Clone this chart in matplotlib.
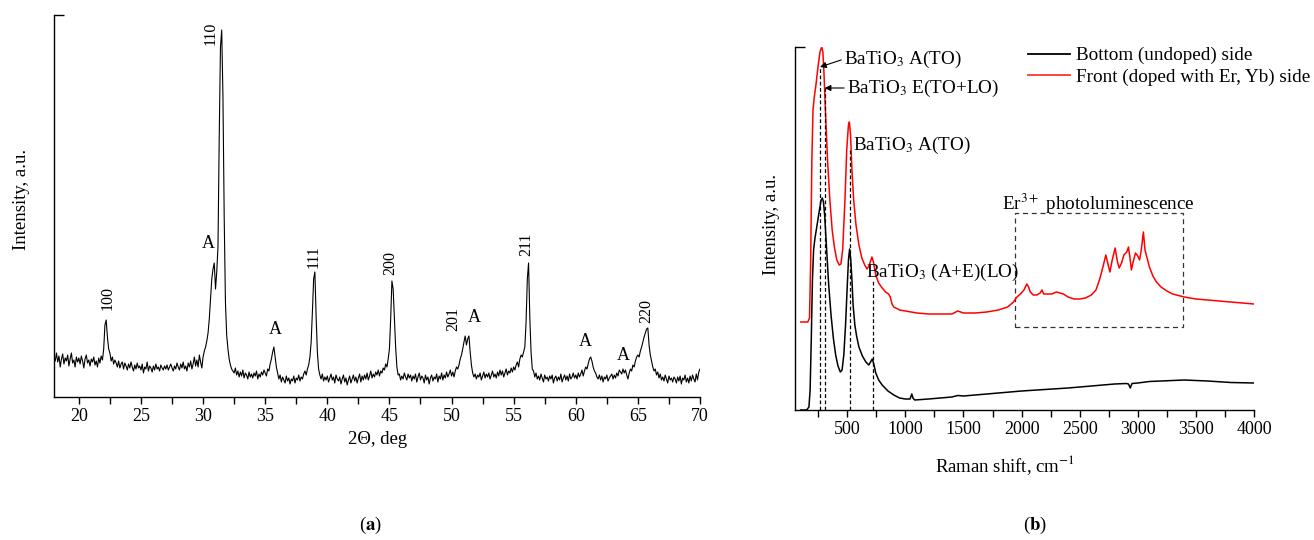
import matplotlib
matplotlib.use("Agg")
import matplotlib.pyplot as plt
import numpy as np
from matplotlib.ticker import MultipleLocator
from matplotlib.lines import Line2D
from matplotlib.patches import Rectangle

plt.rcParams['font.family'] = ['Liberation Serif', 'DejaVu Serif']
plt.rcParams['mathtext.fontset'] = 'stix'

# ---------------- (a) XRD pattern, 18-70 deg in 0.1 deg steps ----------------
two_theta = np.round(np.arange(18.0, 70.05, 0.1), 1)
xrd_intensity = [
    40, 36, 44, 35, 41, 30, 38, 43, 33, 39,      # 18
    36, 42, 31, 38, 44, 34, 37, 30, 40, 35,      # 19
    39, 33, 41, 36, 29, 38, 42, 34, 37, 31,      # 20
    38, 35, 40, 32, 36, 30, 39, 34, 41, 37,      # 21
    48, 72, 77, 60, 48, 44, 36, 40, 33, 37,      # 22
    34, 30, 36, 29, 33, 35, 28, 34, 31, 27,      # 23
    33, 29, 35, 30, 26, 32, 28, 34, 29, 31,      # 24
    27, 33, 24, 30, 28, 35, 26, 31, 29, 25,      # 25
    31, 27, 33, 28, 30, 26, 32, 29, 27, 31,      # 26
    28, 32, 27, 30, 33, 29, 26, 31, 28, 34,      # 27
    30, 27, 33, 29, 35, 28, 31, 26, 34, 30,      # 28
    36, 28, 33, 40, 31, 37, 30, 42, 35, 29,      # 29
    40, 46, 50, 56, 64, 78, 98, 118, 128, 134,   # 30
    108, 125, 150, 260, 350, 367, 300, 180, 95, 62,  # 31
    48, 38, 32, 28, 26, 24, 29, 22, 26, 20,      # 32
    25, 21, 27, 19, 24, 22, 18, 25, 20, 23,      # 33
    19, 24, 21, 26, 18, 23, 20, 25, 22, 27,      # 34
    24, 21, 28, 26, 33, 38, 45, 50, 40, 30,      # 35
    24, 18, 22, 15, 20, 17, 14, 21, 16, 19,      # 36
    13, 18, 16, 21, 14, 19, 17, 22, 16, 20,      # 37
    18, 23, 26, 22, 28, 32, 40, 55, 85, 118,     # 38
    125, 80, 45, 28, 22, 18, 23, 16, 20, 17,     # 39
    21, 15, 19, 23, 17, 20, 14, 22, 18, 16,      # 40
    20, 13, 18, 22, 15, 19, 12, 17, 21, 14,      # 41
    18, 22, 16, 20, 14, 19, 23, 15, 21, 17,      # 42
    22, 18, 24, 17, 21, 26, 19, 23, 20, 25,      # 43
    22, 27, 21, 26, 24, 29, 27, 33, 30, 38,      # 44
    48, 78, 116, 108, 80, 50, 30, 22, 23, 17,    # 45
    21, 18, 24, 20, 17, 23, 19, 22, 16, 21,      # 46
    18, 23, 15, 20, 24, 17, 21, 19, 14, 22,      # 47
    17, 20, 13, 19, 22, 16, 20, 18, 23, 15,      # 48
    21, 18, 24, 17, 22, 19, 25, 20, 23, 27,      # 49
    21, 25, 20, 26, 30, 28, 32, 38, 42, 48,      # 50
    55, 61, 52, 58, 61, 45, 32, 24, 20, 23,      # 51
    18, 22, 20, 24, 17, 21, 25, 19, 23, 20,      # 52
    24, 18, 22, 26, 20, 23, 19, 25, 21, 27,      # 53
    22, 26, 20, 24, 28, 22, 26, 24, 29, 25,      # 54
    30, 27, 32, 35, 30, 38, 42, 40, 45, 50,      # 55
    75, 118, 134, 80, 45, 28, 26, 20, 24, 18,    # 56
    21, 17, 23, 19, 15, 22, 18, 20, 16, 21,      # 57
    18, 22, 14, 19, 21, 16, 20, 17, 23, 15,      # 58
    19, 22, 17, 21, 16, 23, 18, 20, 24, 19,      # 59
    22, 18, 24, 20, 23, 27, 21, 26, 30, 28,      # 60
    33, 38, 40, 36, 30, 26, 24, 20, 18, 22,      # 61
    17, 21, 15, 20, 18, 22, 16, 19, 21, 23,      # 62
    18, 22, 19, 24, 21, 27, 25, 23, 28, 24,      # 63
    27, 22, 18, 24, 28, 26, 32, 30, 36, 40,      # 64
    42, 40, 46, 50, 55, 60, 64, 68, 69, 52,      # 65
    42, 36, 30, 26, 28, 22, 25, 19, 23, 17,      # 66
    20, 16, 22, 18, 14, 21, 17, 19, 15, 20,      # 67
    18, 14, 20, 16, 21, 13, 19, 17, 22, 15,      # 68
    19, 14, 21, 16, 22, 18, 15, 23, 17, 25,      # 69
    28,                                          # 70
]

# Reflection labels and where they sit
xrd_labels = ["100", "A", "110", "A", "111", "200", "201", "A", "211", "A", "A", "220"]
xrd_label_x = [22.3, 30.4, 30.6, 35.8, 38.9, 45.05, 50.1, 51.8, 56.0, 60.75, 63.8, 65.7]
xrd_label_y = [99, 153, 364, 68, 140, 134, 78, 79, 153, 56, 41, 86]

# ---------------- (b) Raman spectra ----------------
raman_shift_bottom = [100, 150, 170, 180, 190, 200, 210, 222, 240, 260, 275, 285, 295, 305,
                      320, 340, 360, 380, 400, 420, 440, 455, 470, 485, 500, 510, 520, 530,
                      540, 550, 565, 580, 600, 630, 660, 685, 700, 715, 728, 745, 770, 800,
                      850, 900, 950, 1000, 1040, 1055, 1065, 1080, 1200, 1400, 1450, 1500,
                      1600, 1800, 2000, 2200, 2400, 2600, 2800, 2900, 2920, 2935, 2950, 3000,
                      3100, 3200, 3300, 3400, 3500, 3600, 3800, 4000]
intensity_bottom = [0, 0, 3, 20, 70, 130, 160, 172, 185, 200, 210, 212, 208, 195,
                    165, 125, 95, 72, 55, 44, 38, 40, 55, 85, 125, 150, 161, 150,
                    130, 105, 85, 74, 63, 54, 48, 45, 48, 51, 46, 37, 30, 25,
                    19, 15, 12, 11, 11, 16, 12, 10, 11, 13, 14.5, 14,
                    15, 17, 19, 20.5, 22, 24, 26, 26.5, 26, 22, 26.5, 27,
                    28.5, 29, 29.5, 30, 29.5, 29, 27.5, 27]

raman_shift_front = [100, 160, 175, 185, 195, 205, 215, 230, 250, 265, 280, 290, 300, 315,
                     330, 350, 370, 390, 410, 430, 445, 460, 480, 495, 510, 518, 528, 540,
                     555, 575, 600, 625, 650, 670, 690, 712, 725, 745, 770, 800, 830, 855,
                     870, 885, 900, 950, 1000, 1100, 1200, 1300, 1400, 1450, 1500, 1600,
                     1700, 1800, 1880, 1930, 1960, 1990, 2020, 2045, 2060, 2075, 2100, 2130,
                     2160, 2175, 2190, 2220, 2260, 2300, 2330, 2360, 2400, 2450, 2500, 2550,
                     2600, 2640, 2670, 2700, 2725, 2745, 2760, 2780, 2805, 2825, 2840, 2860,
                     2880, 2905, 2920, 2935, 2945, 2960, 2980, 3000, 3015, 3030, 3048, 3062,
                     3080, 3100, 3130, 3160, 3200, 3250, 3300, 3400, 3500, 3600, 3700, 3800,
                     3900, 4000]
intensity_front = [88, 88, 92, 150, 250, 300, 312, 325, 345, 358, 363, 358, 335, 290,
                   250, 210, 180, 162, 150, 145, 146, 160, 210, 260, 285, 288, 275, 240,
                   210, 185, 165, 152, 145, 141, 145, 153, 148, 135, 127, 122, 118, 116,
                   113, 106, 103, 100, 99, 97, 96, 96, 96, 99, 97, 97,
                   98, 100, 103, 108, 113, 116, 120, 126, 123, 118, 115, 115,
                   117, 120, 116, 116, 116, 118, 117, 116, 113, 111, 111, 112,
                   115, 120, 130, 143, 155, 145, 138, 150, 162, 148, 142, 147,
                   155, 158, 163, 150, 140, 148, 157, 154, 150, 160, 178, 160,
                   152, 143, 134, 128, 123, 119, 116, 113, 111, 110, 109, 108,
                   107, 106]

mode_shifts = [265, 305, 520, 718]
mode_line_tops = [343, 322, 262, 130]

legend_labels = ["Bottom (undoped) side", "Front (doped with Er, Yb) side"]

# ---------------- figure ----------------
W, H = 1314, 540
fig = plt.figure(figsize=(W / 100, H / 100), dpi=100)
axL = fig.add_axes([54 / W, (H - 397) / H, 646 / W, 382 / H])
axR = fig.add_axes([795 / W, (H - 410) / H, 459 / W, 363 / H])

for ax in (axL, axR):
    for s in ("top", "right"):
        ax.spines[s].set_visible(False)
    for s in ("left", "bottom"):
        ax.spines[s].set_linewidth(1.0)
    ax.tick_params(axis="x", which="both", direction="out", length=5, width=1.0,
                   labelsize=13, pad=3)
    ax.tick_params(axis="y", which="major", direction="in", length=7, width=1.0,
                   labelleft=False)

# (a)
axL.plot(two_theta, xrd_intensity, color="black", lw=0.8)
axL.set_xlim(18, 70)
axL.set_ylim(0, 382)
axL.xaxis.set_major_locator(MultipleLocator(5))
axL.xaxis.set_minor_locator(MultipleLocator(2.5))
axL.set_yticks([382])
for txt, x, y in zip(xrd_labels, xrd_label_x, xrd_label_y):
    if txt == "A":
        axL.text(x, y, txt, ha="center", va="center", fontsize=13)
    else:
        axL.text(x, y, txt, ha="center", va="center", rotation=90, fontsize=11.5)
axL.text(0.5015, -0.112, "2Θ, deg", transform=axL.transAxes, ha="center", va="center",
         fontsize=13.5)
axL.text(-0.05, 0.516, "Intensity, a.u.", transform=axL.transAxes, ha="center",
         va="center", rotation=90, fontsize=13.5)

# (b)
axR.plot(raman_shift_bottom, intensity_bottom, color="black", lw=1.1)
axR.plot(raman_shift_front, intensity_front, color="#ff0000", lw=1.1)
axR.set_xlim(50, 4000)
axR.set_ylim(0, 363)
axR.xaxis.set_major_locator(MultipleLocator(500))
axR.xaxis.set_minor_locator(MultipleLocator(250))
axR.set_yticks([363])

for x, top in zip(mode_shifts, mode_line_tops):
    axR.plot([x, x], [0, top], color="black", lw=0.9, ls=(0, (3, 2)))

axR.add_patch(Rectangle((1945, 83), 1445, 114, fill=False, ec="#333333", lw=0.9,
                        ls=(0, (4, 3))))

arrow_kw = dict(arrowstyle="-|>", color="black", lw=0.8, shrinkA=0, shrinkB=0,
                mutation_scale=9, relpos=(0, 0.5))
fs_note = 13.8
axR.annotate(r"BaTiO$_3$ A(TO)", xy=(265, 343), xytext=(472, 351), ha="left",
             va="center", fontsize=fs_note, arrowprops=arrow_kw)
axR.annotate(r"BaTiO$_3$ E(TO+LO)", xy=(305, 322), xytext=(497, 322), ha="left",
             va="center", fontsize=fs_note, arrowprops=arrow_kw)
axR.text(549, 265, r"BaTiO$_3$ A(TO)", ha="left", va="center", fontsize=fs_note)
axR.text(661, 138, r"BaTiO$_3$ (A+E)(LO)", ha="left", va="center", fontsize=fs_note)
axR.text(1831, 200, r"Er$^{3+}$ photoluminescence", ha="left", va="baseline",
         fontsize=fs_note)

axR.text(0.4575, -0.1515, r"Raman shift, cm$^{-1}$", transform=axR.transAxes,
         ha="center", va="center", fontsize=13.5)
axR.text(-0.052, 0.51, "Intensity, a.u.", transform=axR.transAxes, ha="center",
         va="center", rotation=90, fontsize=13.5)

handles = [Line2D([], [], color="black", lw=1.3), Line2D([], [], color="#ff3333", lw=1.3)]
axR.legend(handles, legend_labels, loc="upper left", bbox_to_anchor=(0.508, 1.0),
           frameon=False, fontsize=13.8, handlelength=2.2, handletextpad=0.3,
           labelspacing=0.2, borderpad=0, borderaxespad=0)

fig.text(370 / W, 1 - 525 / H, r"($\mathbf{a}$)", ha="center", va="center", fontsize=13.5)
fig.text(1035 / W, 1 - 525 / H, r"($\mathbf{b}$)", ha="center", va="center", fontsize=13.5)

fig.savefig("out.png", dpi=100, facecolor="white")
